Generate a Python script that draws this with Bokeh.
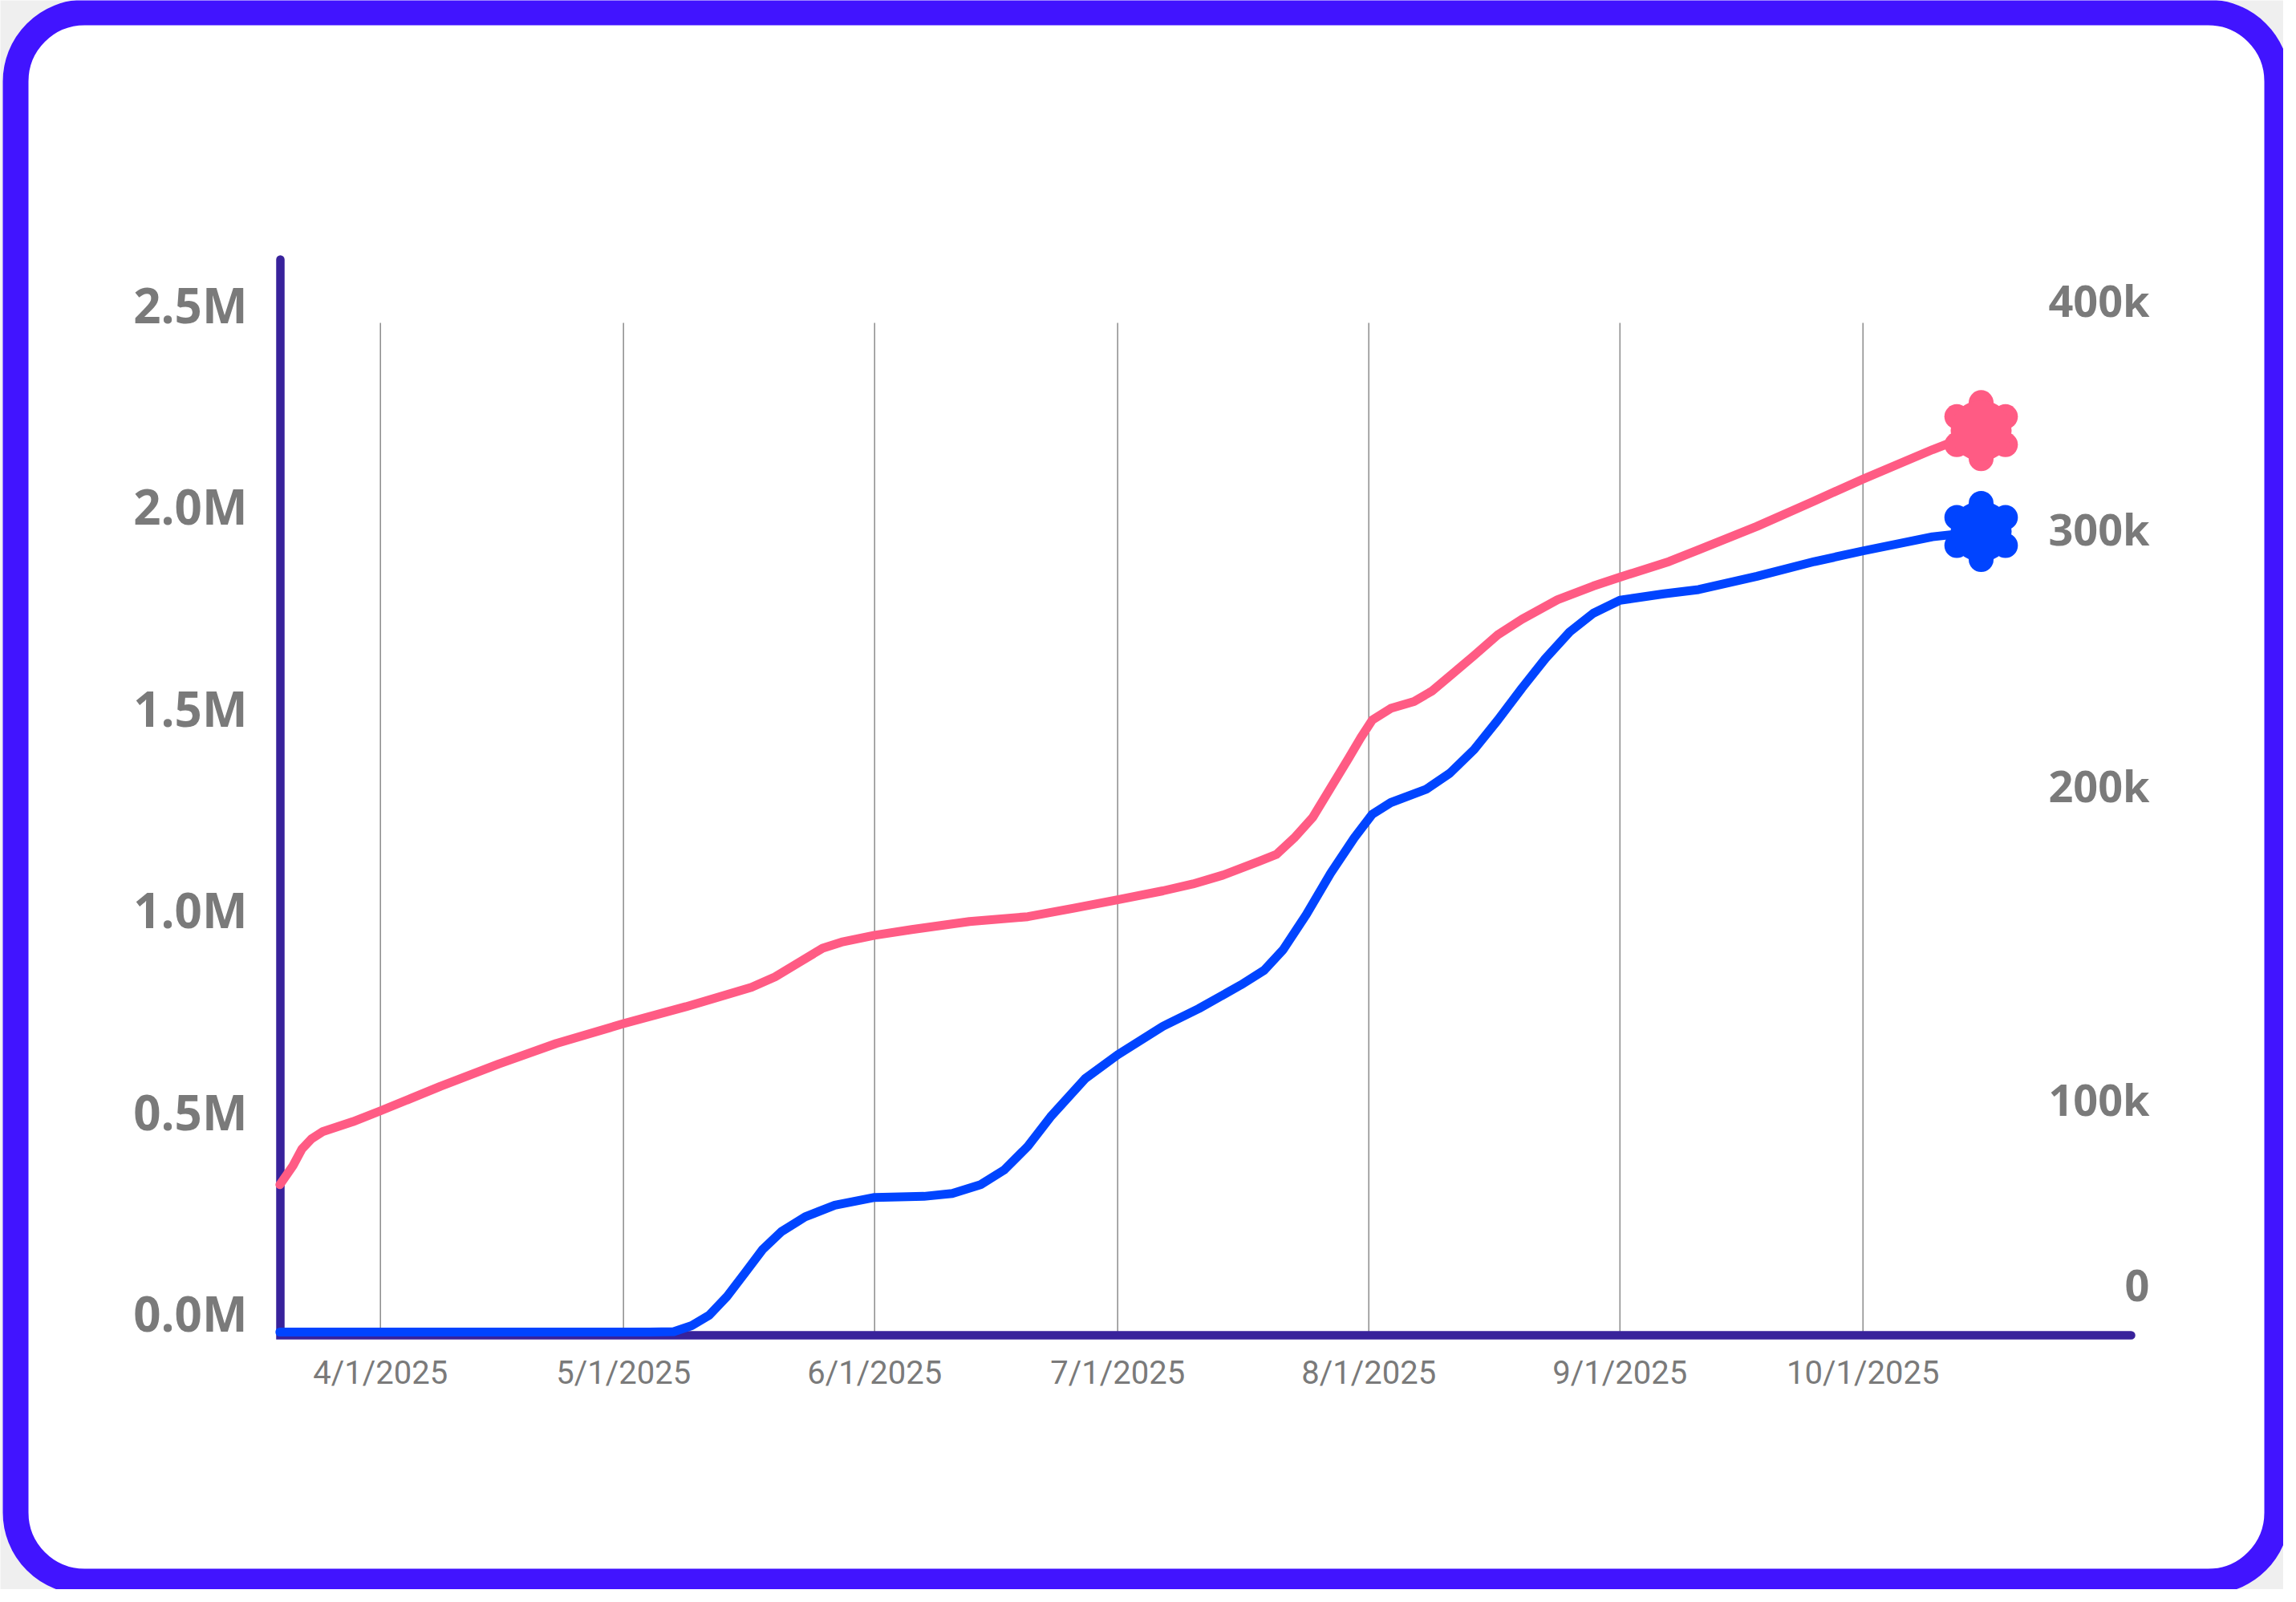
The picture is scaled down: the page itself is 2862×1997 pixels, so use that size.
import numpy as np
import pandas as pd
from bokeh.plotting import figure
from bokeh.models import Range1d, BoxAnnotation
from bokeh.core.properties import value
from bokeh.embed import file_html
from bokeh.resources import INLINE

# ---------------- data ----------------
pink_dates = [
    "2025-03-19 14:00", "2025-03-21 05:00", "2025-03-22 07:00", "2025-03-23 11:00",
    "2025-03-24 22:00", "2025-03-28 14:00", "2025-04-01 00:00", "2025-04-04 22:00",
    "2025-04-08 10:00", "2025-04-15 14:00", "2025-04-22 17:00", "2025-05-01 00:00",
    "2025-05-08 17:00", "2025-05-16 19:00", "2025-05-19 17:00", "2025-05-22 17:00",
    "2025-05-25 14:00", "2025-05-27 22:00", "2025-06-01 00:00", "2025-06-05 14:00",
    "2025-06-12 17:00", "2025-06-19 22:00", "2025-06-25 14:00", "2025-07-01 00:00",
    "2025-07-06 14:00", "2025-07-10 07:00", "2025-07-14 00:00", "2025-07-18 10:00",
    "2025-07-20 14:00", "2025-07-22 19:00", "2025-07-25 02:00", "2025-07-27 07:00",
    "2025-07-29 12:00", "2025-07-31 00:00", "2025-08-01 10:00", "2025-08-03 17:00",
    "2025-08-06 14:00", "2025-08-08 19:00", "2025-08-11 00:00", "2025-08-14 00:00",
    "2025-08-16 22:00", "2025-08-19 22:00", "2025-08-24 07:00", "2025-08-28 17:00",
    "2025-09-01 00:00", "2025-09-07 02:00", "2025-09-10 17:00", "2025-09-17 22:00",
    "2025-09-25 00:00", "2025-10-01 00:00", "2025-10-09 14:00", "2025-10-15 14:00",
]
pink_values = [
    365_000, 412_000, 453_000, 478_000,
    497_000, 521_000, 548_000, 580_000,
    609_000, 664_000, 715_000, 764_000,
    806_000, 854_000, 880_000, 916_000,
    951_000, 966_000, 983_000, 997_000,
    1_017_000, 1_029_000, 1_050_000, 1_071_000,
    1_093_000, 1_110_000, 1_132_000, 1_166_000,
    1_183_000, 1_224_000, 1_275_000, 1_348_000,
    1_421_000, 1_472_000, 1_516_000, 1_545_000,
    1_562_000, 1_588_000, 1_625_000, 1_676_000,
    1_727_000, 1_766_000, 1_814_000, 1_848_000,
    1_870_000, 1_909_000, 1_938_000, 1_996_000,
    2_059_000, 2_113_000, 2_186_000, 2_233_000,
]

blue_dates = [
    "2025-03-19 14:00", "2025-05-04 05:00", "2025-05-07 05:00", "2025-05-09 10:00",
    "2025-05-11 14:00", "2025-05-13 19:00", "2025-05-16 00:00", "2025-05-18 05:00",
    "2025-05-20 12:00", "2025-05-23 10:00", "2025-05-27 02:00", "2025-06-01 00:00",
    "2025-06-07 02:00", "2025-06-10 14:00", "2025-06-14 02:00", "2025-06-17 00:00",
    "2025-06-19 22:00", "2025-06-22 17:00", "2025-06-27 00:00", "2025-07-01 00:00",
    "2025-07-06 14:00", "2025-07-11 00:00", "2025-07-16 05:00", "2025-07-19 02:00",
    "2025-07-21 10:00", "2025-07-24 07:00", "2025-07-27 07:00", "2025-07-30 05:00",
    "2025-08-01 10:00", "2025-08-03 17:00", "2025-08-08 02:00", "2025-08-11 00:00",
    "2025-08-14 00:00", "2025-08-16 22:00", "2025-08-19 22:00", "2025-08-22 19:00",
    "2025-08-25 19:00", "2025-08-28 17:00", "2025-09-01 00:00", "2025-09-06 10:00",
    "2025-09-10 17:00", "2025-09-17 22:00", "2025-09-25 00:00", "2025-10-01 00:00",
    "2025-10-09 14:00", "2025-10-15 14:00",
]
blue_values = [
    0, 0, 150, 2_400,
    6_300, 13_400, 22_200, 31_100,
    37_700, 43_200, 47_600, 50_500,
    50_900, 52_000, 55_300, 60_800,
    69_700, 80_700, 95_100, 104_000,
    114_700, 121_300, 130_200, 135_700,
    143_400, 156_600, 172_100, 185_400,
    194_200, 198_600, 203_600, 209_600,
    218_500, 229_500, 241_600, 252_600,
    262_600, 269_600, 274_500, 276_900,
    278_500, 283_500, 289_000, 293_000,
    298_300, 300_300,
]

x_tick_dates = ["2025-04-01", "2025-05-01", "2025-06-01", "2025-07-01",
                "2025-08-01", "2025-09-01", "2025-10-01"]
x_tick_labels = ["4/1/2025", "5/1/2025", "6/1/2025", "7/1/2025",
                 "8/1/2025", "9/1/2025", "10/1/2025"]

left_ticks = [0, 500_000, 1_000_000, 1_500_000, 2_000_000, 2_500_000]
left_tick_labels = ["0.0M", "0.5M", "1.0M", "1.5M", "2.0M", "2.5M"]

right_tick_labels = ["0", "100k", "200k", "300k", "400k"]
# where each right-hand label sits on the right-hand scale, as drawn
right_label_at = [17_500, 87_300, 205_000, 301_200, 387_000]

# ---------------- styles / layout ----------------
PINK = "#ff5b84"
BLUE = "#0044ff"
AXIS = "#38229b"
BORDER = "#4114ff"
GRID = "#8c8c8c"
LABEL = "#7a7a7a"

W, H = 2846, 1981                      # canvas
PL, PR, PT, PB = 349, 2656, 323, 1664  # plot area inside the canvas (px)


def to_ms(ds):
    idx = pd.to_datetime(ds)
    return ((idx - pd.Timestamp("1970-01-01")) / pd.Timedelta(milliseconds=1)).to_numpy(dtype=float)


pink_x = to_ms(pink_dates)
blue_x = to_ms(blue_dates)
tick_x = to_ms(x_tick_dates)

# data extents of the plot area
x0, x1 = to_ms(["2025-03-19 15:36", "2025-11-03 02:24"])
yl0, yl1 = -7_950, 2_657_000
yr0, yr1 = -1_200, 402_300


def extend(a0, a1, p0, p1, total):
    per = (a1 - a0) / (p1 - p0)
    return a0 - p0 * per, a1 + (total - p1) * per


xs, xe = extend(x0, x1, PL, PR, W)
yls, yle = extend(yl0, yl1, H - PB, H - PT, H)
yrs, yre = extend(yr0, yr1, H - PB, H - PT, H)

p = figure(
    width=W, height=H, title=None,
    x_range=Range1d(xs, xe), y_range=Range1d(yls, yle),
    x_axis_location=None, y_axis_location=None,
    min_border=0, output_backend="svg", toolbar_location=None,
)
p.extra_y_ranges = {"right": Range1d(yrs, yre)}
p.background_fill_color = "white"
p.border_fill_color = "white"
p.outline_line_color = None
p.grid.visible = False

# vertical grid lines at the month ticks, from 0 up to the top left tick
n = len(tick_x)
p.segment(x0=tick_x, y0=[left_ticks[0]] * n, x1=tick_x, y1=[left_ticks[-1]] * n,
          line_color=GRID, line_width=1.5)

# axis lines (left and bottom)
p.line([x0, x0, x1], [yl1, yl0, yl0], line_color=AXIS, line_width=10.5,
       line_cap="round", line_join="miter")

# series
p.line(pink_x, pink_values, line_color=PINK, line_width=11,
       line_cap="round", line_join="round")
p.line(blue_x, blue_values, line_color=BLUE, line_width=11,
       line_cap="round", line_join="round", y_range_name="right")


def flower(xv, yv, color, range_name, r0, r1):
    px_x = (PR - PL) / (x1 - x0)
    px_y = (PB - PT) / (r1 - r0)
    ang = np.deg2rad([90, 30, -30, -90, -150, 150])
    lx = xv + 35 * np.cos(ang) / px_x
    ly = yv + 35 * np.sin(ang) / px_y
    p.scatter(lx, ly, size=31, fill_color=color, line_color=None, y_range_name=range_name)
    p.scatter([xv], [yv], size=76, fill_color=color, line_color=None, y_range_name=range_name)


flower(pink_x[-1], pink_values[-1], PINK, "default", yl0, yl1)
flower(blue_x[-1], blue_values[-1], BLUE, "right", yr0, yr1)

# tick labels
p.text(x=tick_x, y=[yl0] * n, text=x_tick_labels, text_align="center",
       text_baseline="middle", y_offset=47,
       text_font=value("Roboto"), text_font_size="40px", text_color=LABEL)
p.text(x=[x0] * len(left_ticks), y=left_ticks, text=left_tick_labels,
       x_offset=-41, y_offset=-23, text_align="right", text_baseline="middle",
       text_font=value("Open Sans"), text_font_style="bold",
       text_font_size="60px", text_color=LABEL)
p.text(x=[x1] * len(right_tick_labels), y=right_label_at, text=right_tick_labels,
       y_range_name="right", x_offset=23, text_align="right", text_baseline="middle",
       text_font=value("Open Sans"), text_font_style="bold",
       text_font_size="54px", text_color=LABEL)

# rounded card border (grey outside the rounded corners, then the blue frame)
p.add_layout(BoxAnnotation(left=-27, right=2884, top=-31, bottom=2017,
                           left_units="canvas", right_units="canvas",
                           top_units="canvas", bottom_units="canvas",
                           fill_color=None, line_color="#efefef", line_alpha=1.0,
                           line_width=60, border_radius=132, level="overlay"))
p.add_layout(BoxAnnotation(left=19, right=2838, top=15, bottom=1971,
                           left_units="canvas", right_units="canvas",
                           top_units="canvas", bottom_units="canvas",
                           fill_color=None, line_color=BORDER, line_alpha=1.0,
                           line_width=32, border_radius=86, level="overlay"))

open("out.html", "w").write(file_html(p, INLINE))
